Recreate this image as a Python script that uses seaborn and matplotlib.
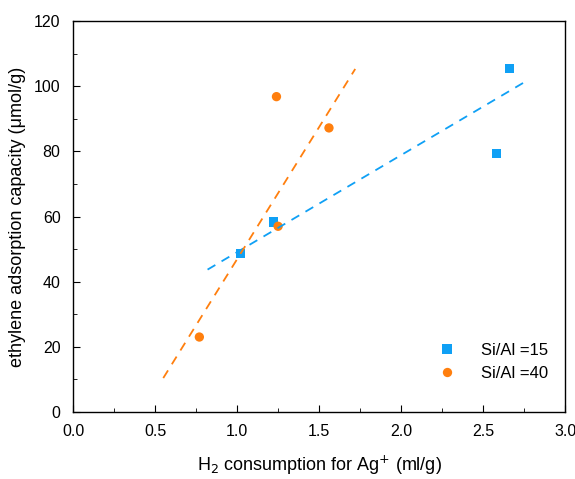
import seaborn as sns
import matplotlib.pyplot as plt
import numpy as np
import pandas as pd
from matplotlib.ticker import MultipleLocator

# datos
h2_15 = [1.02, 1.22, 2.58, 2.66]
cap_15 = [48.7, 58.3, 79.3, 105.4]
h2_40 = [0.77, 1.24, 1.25, 1.56]
cap_40 = [23.0, 96.8, 57.0, 87.2]

# extremos de las rectas de ajuste
fit_x_15 = [0.82, 2.77]
fit_y_15 = [43.7, 101.8]
fit_x_40 = [0.55, 1.72]
fit_y_40 = [10.4, 105.3]

blue = '#0FA0F5'
orange = '#FF7F0E'

df = pd.DataFrame({
    "x": h2_15 + h2_40,
    "y": cap_15 + cap_40,
    "serie": ["Si/Al =15"] * len(h2_15) + ["Si/Al =40"] * len(h2_40),
})

sns.set_style("ticks", {"text.color": "black", "axes.labelcolor": "black",
                        "xtick.color": "black", "ytick.color": "black"})
plt.rcParams['font.family'] = ['Liberation Sans', 'DejaVu Sans']

fig = plt.figure(figsize=(5.75, 4.79), dpi=100)
ax = fig.add_axes([0.127, 0.140, 0.856, 0.816])

sns.lineplot(x=fit_x_15, y=fit_y_15, color=blue, linestyle=(0, (5, 4)), linewidth=1.3, ax=ax)
sns.lineplot(x=fit_x_40, y=fit_y_40, color=orange, linestyle=(0, (5, 4)), linewidth=1.3, ax=ax)
sns.scatterplot(data=df, x="x", y="y", hue="serie", style="serie",
                markers={"Si/Al =15": "s", "Si/Al =40": "o"},
                palette={"Si/Al =15": blue, "Si/Al =40": orange},
                s=45, linewidth=0, ax=ax)

ax.set_xlim(0, 3.0)
ax.set_ylim(0, 120)
ax.xaxis.set_major_locator(MultipleLocator(0.5))
ax.xaxis.set_minor_locator(MultipleLocator(0.25))
ax.yaxis.set_major_locator(MultipleLocator(20))
ax.yaxis.set_minor_locator(MultipleLocator(10))
ax.tick_params(which='both', direction='in', labelsize=11.5, pad=9, colors='black')
ax.tick_params(which='major', length=5)
ax.tick_params(which='minor', length=3)
for s in ax.spines.values():
    s.set_linewidth(1.0)
    s.set_color('black')

ax.set_xlabel("H$_2$ consumption for Ag$^{+}$ (ml/g)", fontsize=13, labelpad=10, color='black')
ax.set_ylabel("ethylene adsorption capacity (μmol/g)", fontsize=13, labelpad=6, color='black')

ax.legend(loc='lower right', frameon=False, fontsize=12, markerscale=1.0,
          handletextpad=1.0, borderaxespad=0.5, bbox_to_anchor=(0.995, 0.04))

plt.savefig("out.png", dpi=100)
